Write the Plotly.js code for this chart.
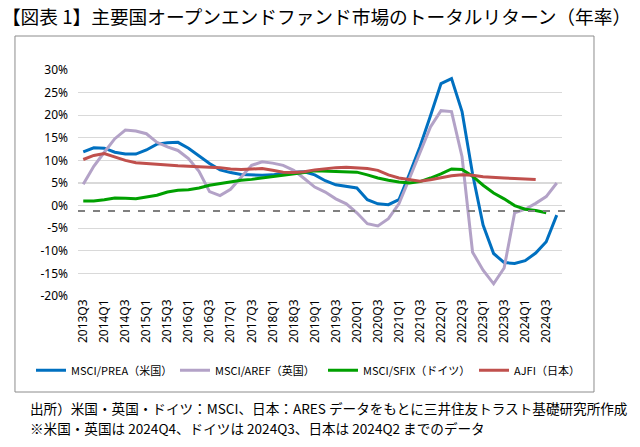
<!DOCTYPE html>
<html><head><meta charset="utf-8">
<script src="https://cdn.plot.ly/plotly-3.0.1.min.js"></script>
<style>html,body{margin:0;padding:0;background:#fff}#chart{width:640px;height:447px}</style>
</head><body><div id="chart"></div>
<script>
const quarters = ['2013Q3','2013Q4',
  '2014Q1','2014Q2','2014Q3','2014Q4',
  '2015Q1','2015Q2','2015Q3','2015Q4',
  '2016Q1','2016Q2','2016Q3','2016Q4',
  '2017Q1','2017Q2','2017Q3','2017Q4',
  '2018Q1','2018Q2','2018Q3','2018Q4',
  '2019Q1','2019Q2','2019Q3','2019Q4',
  '2020Q1','2020Q2','2020Q3','2020Q4',
  '2021Q1','2021Q2','2021Q3','2021Q4',
  '2022Q1','2022Q2','2022Q3','2022Q4',
  '2023Q1','2023Q2','2023Q3','2023Q4',
  '2024Q1','2024Q2','2024Q3','2024Q4'];
const xTickLabels = ['2013Q3','2014Q1','2014Q3','2015Q1','2015Q3','2016Q1','2016Q3','2017Q1','2017Q3',
  '2018Q1','2018Q3','2019Q1','2019Q3','2020Q1','2020Q3','2021Q1','2021Q3','2022Q1','2022Q3',
  '2023Q1','2023Q3','2024Q1','2024Q3'];
const yTickValues = [-20,-15,-10,-5,0,5,10,15,20,25,30];
const yTickLabels = ['-20%','-15%','-10%','-5%','0%','5%','10%','15%','20%','25%','30%'];

// MSCI/PREA (US)
const usPREA = [11.9,12.8,12.7,11.8,11.4,11.4,12.3,13.6,13.9,14.0,
  12.7,11.0,9.3,7.9,7.3,6.9,6.8,6.7,6.8,7.2,
  7.4,7.5,6.8,5.5,4.6,4.3,3.9,1.3,0.4,0.2,
  1.3,7.0,13.0,19.9,27.0,28.1,20.8,7.0,-4.3,-10.6,
  -12.6,-12.8,-12.2,-10.5,-8.0,-2.1];
// MSCI/AREF (UK)
const ukAREF = [4.7,8.7,11.8,14.8,16.7,16.5,15.9,14.0,13.0,12.2,
  10.4,7.6,3.1,2.2,3.6,6.3,8.9,9.7,9.4,8.9,
  7.8,6.0,4.1,3.0,1.5,0.4,-1.6,-4.0,-4.5,-2.9,
  0.4,6.0,11.5,17.4,21.0,20.8,10.8,-10.3,-14.3,-17.3,
  -13.8,-1.6,-0.8,0.5,2.0,5.0];
// MSCI/SFIX (Germany)
const deSFIX = [1.0,1.0,1.3,1.7,1.6,1.5,1.9,2.3,3.0,3.4,
  3.5,3.9,4.5,4.9,5.2,5.6,5.8,6.1,6.3,6.7,
  7.0,7.3,7.7,7.6,7.5,7.4,7.4,6.8,6.1,5.6,
  5.2,5.0,5.3,6.1,7.0,8.1,8.0,6.5,4.5,2.8,
  1.5,0.0,-0.8,-1.1,-1.6,null];
// AJFI (Japan)
const jpAJFI = [10.2,11.1,11.5,10.8,10.0,9.5,9.3,9.1,9.0,8.8,
  8.7,8.6,8.5,8.4,8.1,8.0,8.1,8.2,7.8,7.4,
  7.3,7.5,7.9,8.2,8.4,8.5,8.4,8.2,7.8,6.8,
  6.1,5.7,5.4,5.7,6.2,6.6,6.8,6.7,6.4,6.2,
  6.1,6.0,5.9,5.8,null,null];
const referenceLevel = -1.2;

const seriesNames = ['MSCI/PREA（米国）','MSCI/AREF（英国）','MSCI/SFIX（ドイツ）','AJFI（日本）'];
const seriesValues = [usPREA, ukAREF, deSFIX, jpAJFI];
const seriesColors = ['#0070C0','#B3A2C7','#00A000','#C0504D'];
const legendIds = ['legend','legend2','legend3','legend4'];
const legendX = [-0.0971, 0.2004, 0.5062, 0.8182];

const jp = '"Noto Sans CJK JP", "Noto Sans", sans-serif';
const traces = seriesValues.map((vals, k) => ({
  type: 'scatter', mode: 'lines', x: quarters, y: vals, name: seriesNames[k],
  legend: legendIds[k],
  line: {color: seriesColors[k], width: 3}, connectgaps: false, hoverinfo: 'skip'
}));

const layout = {
  width: 640, height: 447,
  margin: {l: 78, r: 78, t: 70, b: 151, pad: 0},
  paper_bgcolor: '#fff', plot_bgcolor: '#fff',
  font: {family: jp, color: '#000'},
  title: {text: '【図表 1】主要国オープンエンドファンド市場のトータルリターン（年率）',
    x: 0.003, xref: 'container', xanchor: 'left', y: 0.96, yref: 'container', yanchor: 'middle',
    font: {family: jp, size: 18.7, color: '#000'}},
  xaxis: {type: 'category', categoryorder: 'array', categoryarray: quarters,
    range: [-0.5, quarters.length - 0.5],
    tickmode: 'array', tickvals: xTickLabels, ticktext: xTickLabels, tickangle: -90,
    tickfont: {family: '"Noto Sans", sans-serif', size: 12, color: '#000'},
    showgrid: false, zeroline: false, showline: false, ticks: '', fixedrange: true},
  yaxis: {range: [-20, 30], tickmode: 'array', tickvals: yTickValues, ticktext: yTickLabels,
    tickfont: {family: '"Noto Sans", sans-serif', size: 12, color: '#000'},
    showgrid: true, gridcolor: '#d9d9d9', gridwidth: 1.3, zeroline: false, showline: false,
    ticks: '', ticklabelstandoff: 9, fixedrange: true},
  showlegend: true,
  shapes: [
    {type: 'rect', xref: 'paper', yref: 'paper', x0: -0.1302, x1: 1.0661, y0: -0.4248, y1: 1.1504,
      line: {color: '#8c8c8c', width: 1}, fillcolor: 'rgba(0,0,0,0)', layer: 'below'},
    {type: 'line', xref: 'paper', yref: 'y', x0: 0, x1: 1.0124, y0: referenceLevel, y1: referenceLevel,
      line: {color: '#808080', width: 2.2, dash: '7px,8px'}, layer: 'above'}
  ],
  annotations: [
    {text: '出所）米国・英国・ドイツ：MSCI、日本：ARES データをもとに三井住友トラスト基礎研究所作成',
      xref: 'paper', yref: 'paper', x: -0.1033, xanchor: 'left', y: -0.4956, yanchor: 'middle',
      showarrow: false, font: {family: jp, size: 13.6, color: '#000'}},
    {text: '※米国・英国は 2024Q4、ドイツは 2024Q3、日本は 2024Q2 までのデータ',
      xref: 'paper', yref: 'paper', x: -0.1033, xanchor: 'left', y: -0.584, yanchor: 'middle',
      showarrow: false, font: {family: jp, size: 13.6, color: '#000'}}
  ]
};
legendIds.forEach((id, k) => {
  layout[id] = {orientation: 'h', x: legendX[k], xanchor: 'left', y: -0.329, yanchor: 'middle',
    itemwidth: 30, bgcolor: 'rgba(0,0,0,0)', borderwidth: 0,
    font: {family: jp, size: 11, color: '#000'}};
});
Plotly.newPlot('chart', traces, layout, {staticPlot: true, displayModeBar: false});
</script></body></html>
